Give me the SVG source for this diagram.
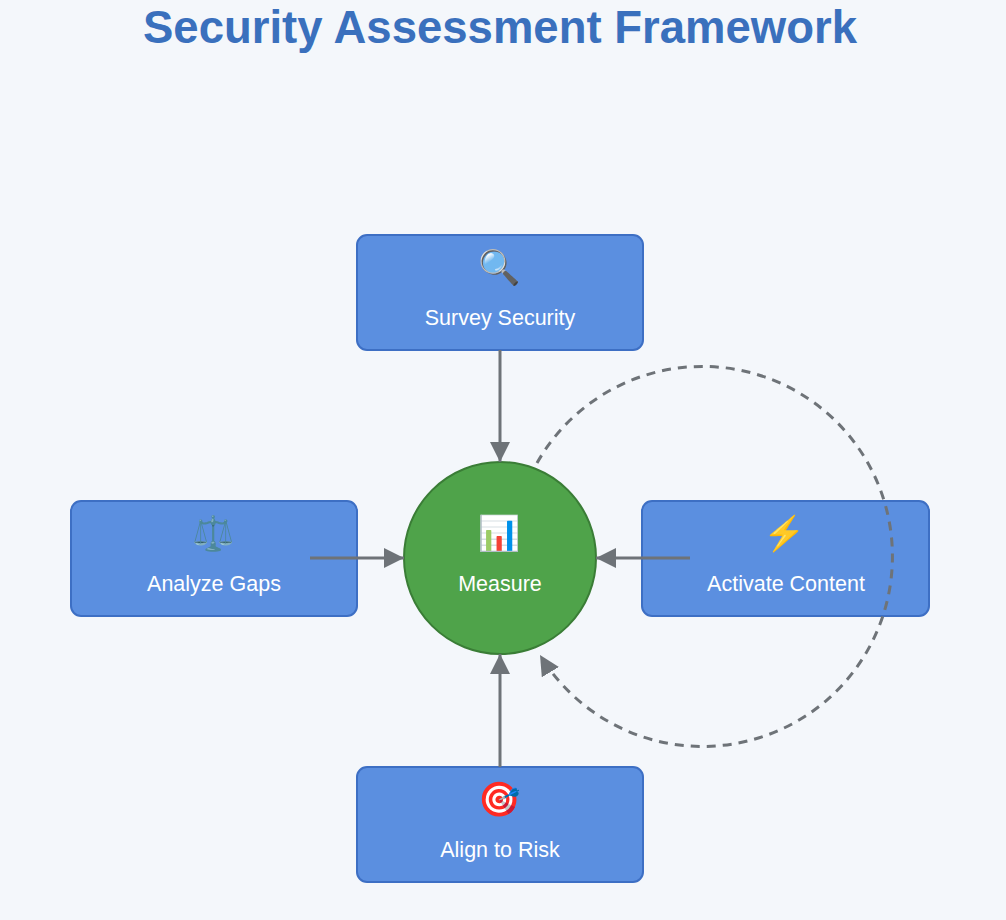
<svg xmlns="http://www.w3.org/2000/svg" width="1006" height="920" viewBox="0 0 1006 920">
<style>
.box{fill:#5b8fe0;stroke:#3d6fc4;stroke-width:2}
.lbl{font-family:"Liberation Sans",Arial,sans-serif;font-size:21.5px;fill:#fff;text-anchor:middle}
.ico{font-family:"Noto Color Emoji","Noto Sans",sans-serif;font-size:34px;text-anchor:middle}
.con{stroke:#6e7378;stroke-width:3;fill:none}
</style>
<defs>
<marker id="a" viewBox="0 0 20 20" refX="20" refY="10" markerWidth="20" markerHeight="20" orient="auto" markerUnits="userSpaceOnUse">
<path d="M0,0 L20,10 L0,20 z" fill="#6e7378"/>
</marker>
</defs>
<rect width="1006" height="920" fill="#f4f7fb"/>
<text x="500" y="43" font-family="Liberation Sans,Arial,sans-serif" font-size="45.5" font-weight="bold" fill="#3a70bd" text-anchor="middle">Security Assessment Framework</text>
<g id="survey"><rect class="box" x="357" y="235" width="286" height="115" rx="10"/><text class="ico" x="500" y="279">🔍</text><text class="lbl" x="500" y="325">Survey Security</text></g>
<g id="analyze"><rect class="box" x="71" y="501" width="286" height="115" rx="10"/><text class="ico" x="214" y="545">⚖️</text><text class="lbl" x="214" y="591">Analyze Gaps</text></g>
<g id="activate"><rect class="box" x="642" y="501" width="287" height="115" rx="10"/><text class="ico" x="785" y="545">⚡</text><text class="lbl" x="786" y="591">Activate Content</text></g>
<g id="align"><rect class="box" x="357" y="767" width="286" height="115" rx="10"/><text class="ico" x="500" y="811">🎯</text><text class="lbl" x="500" y="857">Align to Risk</text></g>
<g id="measure"><circle cx="500" cy="558" r="96" fill="#4fa34a" stroke="#3a7d36" stroke-width="2"/><text class="ico" x="500" y="545">📊</text><text class="lbl" x="500" y="591">Measure</text></g>
<g id="connectors">
<line class="con" x1="500" y1="350" x2="500" y2="462" marker-end="url(#a)"/>
<line class="con" x1="310" y1="558" x2="404" y2="558" marker-end="url(#a)"/>
<line class="con" x1="690" y1="558" x2="596" y2="558" marker-end="url(#a)"/>
<line class="con" x1="500" y1="767" x2="500" y2="654" marker-end="url(#a)"/>
<path class="con" stroke-width="2.5" stroke-dasharray="9,7" d="M537,463 A190,190 0 1 1 540,655" marker-end="url(#a)"/>
</g>
</svg>
